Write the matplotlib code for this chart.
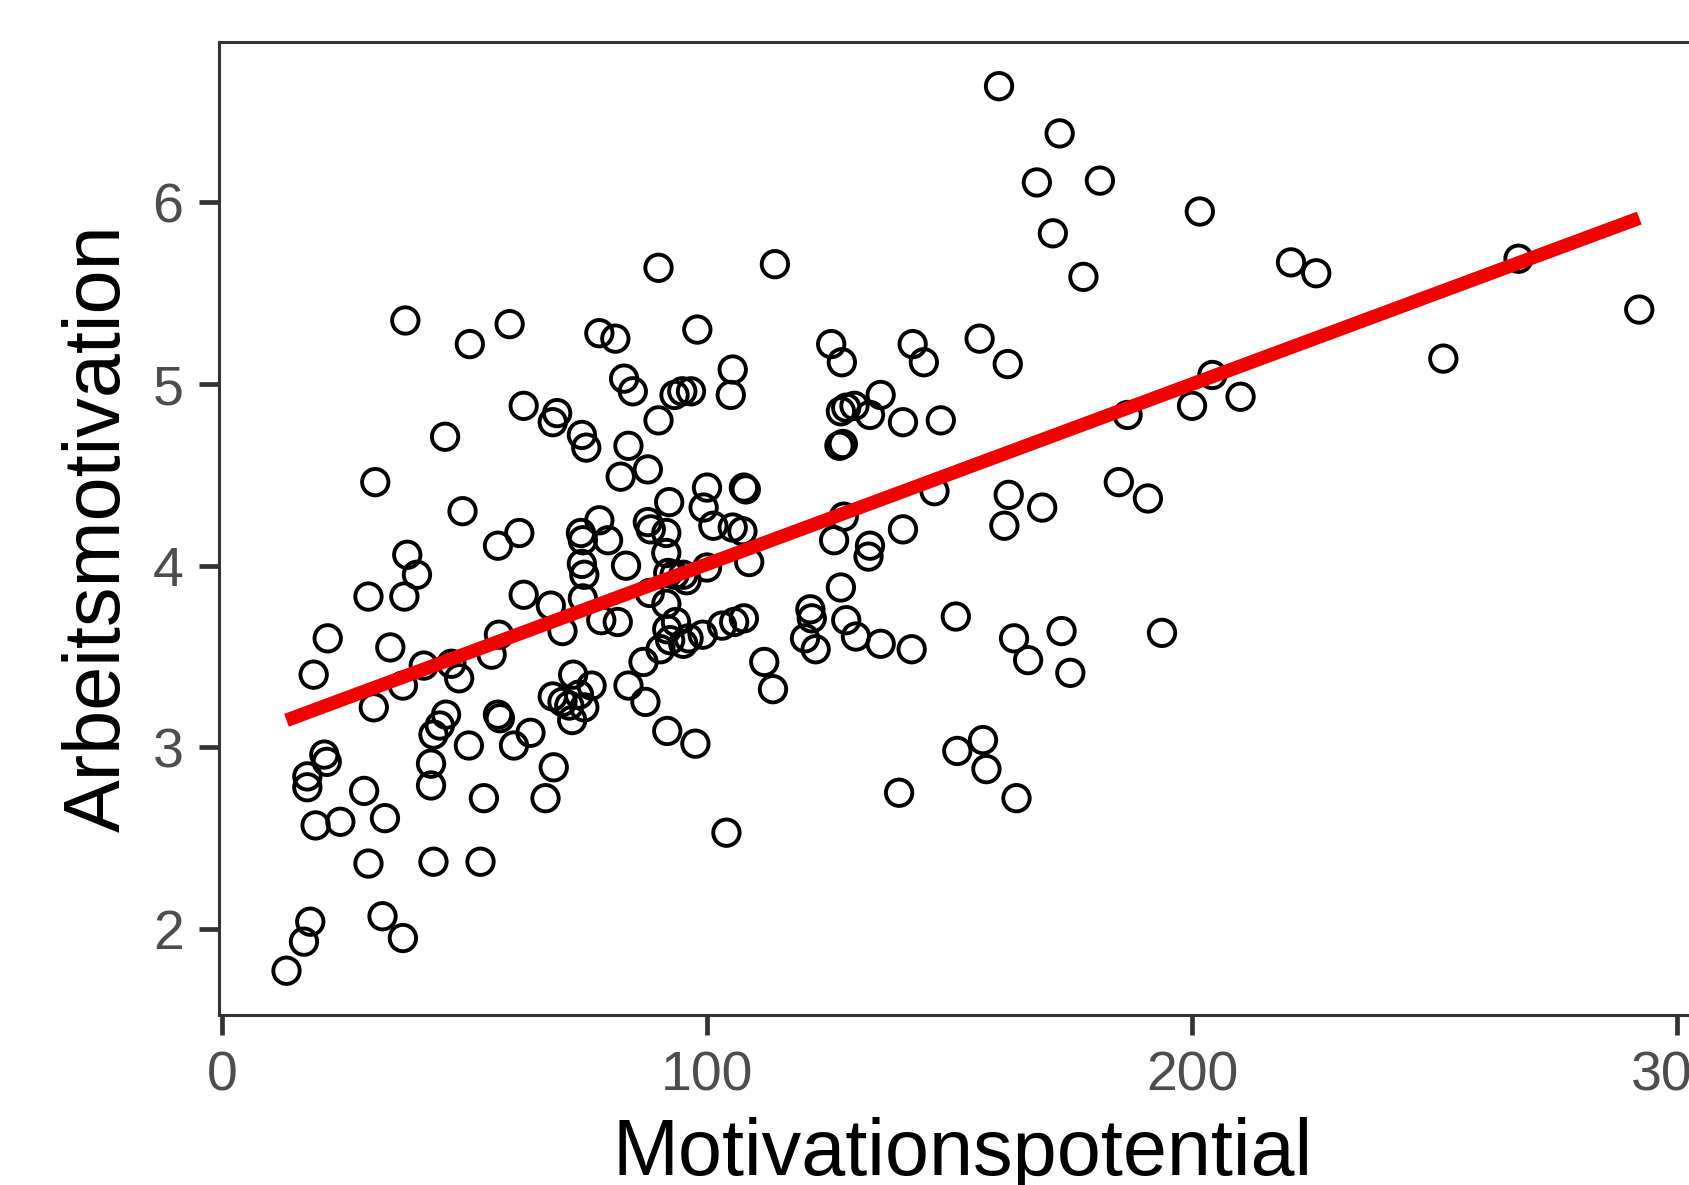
import numpy as np
import matplotlib as mpl
mpl.use('Agg')
import matplotlib.pyplot as plt

# ========================================================================================
# Daten

motivationspotential = [
    160.2, 172.7, 168.0, 181.0, 171.3, 201.6, 177.6, 220.4, 225.6, 267.3,
    292.2, 251.8, 204.2, 210.0, 200.0, 186.7, 184.9, 190.9, 193.8, 90.0,
    114.0, 37.8, 59.3, 51.1, 77.8, 81.1, 98.0, 125.6, 127.8, 142.4,
    144.7, 156.2, 162.0, 105.3, 104.9, 82.9, 84.7, 93.3, 94.9, 96.7,
    90.0, 62.2, 69.1, 68.2, 74.2, 75.1, 46.0, 83.8, 82.2, 87.8,
    31.6, 49.6, 127.6, 130.4, 133.6, 135.8, 140.4, 148.2, 127.3, 128.0,
    146.9, 162.2, 169.1, 161.3, 128.2, 126.2, 133.6, 133.3, 140.4, 127.6,
    121.3, 121.6, 128.7, 130.7, 120.2, 122.4, 135.8, 142.2, 151.3, 163.3,
    166.2, 173.1, 174.9, 151.6, 156.9, 157.6, 163.8, 139.6, 104.0, 107.6,
    108.0, 100.0, 99.3, 101.3, 105.3, 107.3, 108.7, 100.0, 92.2, 87.8,
    88.4, 91.6, 91.6, 92.0, 93.3, 95.1, 83.3, 77.8, 74.0, 74.4,
    79.6, 74.2, 74.7, 74.4, 88.2, 91.6, 67.8, 70.2, 62.2, 61.3,
    56.9, 38.2, 40.2, 37.6, 30.2, 34.7, 21.8, 18.9, 41.6, 47.3,
    48.9, 55.6, 57.1, 78.2, 81.6, 93.6, 91.8, 92.4, 90.4, 96.2,
    99.1, 103.1, 105.6, 107.6, 86.9, 83.8, 111.8, 113.6, 72.4, 76.2,
    73.6, 70.2, 68.2, 71.6, 74.7, 72.2, 37.3, 31.3, 46.2, 44.9,
    43.6, 56.9, 57.3, 63.6, 60.2, 50.9, 87.3, 91.8, 97.6, 68.4,
    66.7, 54.0, 43.1, 43.1, 21.1, 21.6, 17.6, 17.6, 29.3, 33.6,
    19.3, 24.4, 30.2, 43.6, 53.3, 33.1, 37.3, 18.2, 16.9, 13.3,
    95.1, 95.8, 128.7,
]

arbeitsmotivation = [
    6.64, 6.38, 6.11, 6.12, 5.83, 5.95, 5.59, 5.67, 5.61, 5.69,
    5.41, 5.14, 5.05, 4.93, 4.88, 4.83, 4.46, 4.37, 3.63, 5.64,
    5.66, 5.35, 5.33, 5.22, 5.28, 5.25, 5.30, 5.22, 5.12, 5.22,
    5.12, 5.25, 5.11, 5.08, 4.94, 5.03, 4.96, 4.94, 4.96, 4.96,
    4.80, 4.88, 4.84, 4.79, 4.72, 4.65, 4.71, 4.66, 4.49, 4.53,
    4.46, 4.30, 4.85, 4.88, 4.83, 4.94, 4.79, 4.80, 4.66, 4.67,
    4.41, 4.39, 4.32, 4.22, 4.27, 4.14, 4.11, 4.05, 4.20, 3.88,
    3.76, 3.71, 3.70, 3.61, 3.60, 3.54, 3.57, 3.54, 3.72, 3.60,
    3.48, 3.64, 3.41, 2.98, 3.04, 2.88, 2.72, 2.75, 2.53, 4.43,
    4.42, 4.43, 4.32, 4.22, 4.21, 4.19, 4.02, 3.99, 4.35, 4.24,
    4.20, 4.18, 4.07, 3.96, 3.95, 3.95, 4.00, 4.25, 4.18, 4.14,
    4.14, 4.01, 3.95, 3.82, 3.85, 3.79, 3.78, 3.64, 3.84, 4.18,
    4.11, 4.06, 3.95, 3.83, 3.83, 3.55, 3.60, 3.40, 3.45, 3.46,
    3.38, 3.51, 3.62, 3.70, 3.69, 3.69, 3.65, 3.59, 3.54, 3.60,
    3.62, 3.67, 3.69, 3.71, 3.47, 3.34, 3.47, 3.32, 3.40, 3.34,
    3.29, 3.25, 3.28, 3.23, 3.22, 3.15, 3.34, 3.22, 3.18, 3.12,
    3.07, 3.18, 3.16, 3.08, 3.01, 3.01, 3.25, 3.09, 3.02, 2.89,
    2.72, 2.72, 2.91, 2.79, 2.96, 2.92, 2.84, 2.78, 2.76, 2.61,
    2.57, 2.59, 2.36, 2.37, 2.37, 2.07, 1.95, 2.04, 1.93, 1.77,
    3.57, 3.92, 4.87,
]

x_ticks = [0, 100, 200, 300]
y_ticks = [2, 3, 4, 5, 6]

# ========================================================================================

x = np.array(motivationspotential)
y = np.array(arbeitsmotivation)

plt.rcParams['font.family'] = ['Liberation Sans', 'DejaVu Sans']

fig = plt.figure(figsize=(16.9, 11.85), dpi=100)
ax = fig.add_axes([0.1295, 0.1435, 0.8805, 0.8211])

ax.scatter(x, y, s=360, facecolors='none', edgecolors='black', linewidths=2.8, zorder=2)

# lineare Regression wie geom_smooth(method = "lm")
slope, intercept = np.polyfit(x, y, 1)
xs = np.array([x.min(), x.max()])
ax.plot(xs, intercept + slope * xs, color='#F20000', linewidth=9.8,
        solid_capstyle='butt', zorder=3)

# Ausdehnung wie in ggplot (5 %)
dx = 0.05 * (x.max() - x.min())
dy = 0.05 * (y.max() - y.min())
ax.set_xlim(x.min() - dx, x.max() + dx)
ax.set_ylim(y.min() - dy, y.max() + dy)

ax.set_xticks(x_ticks)
ax.set_yticks(y_ticks)

for spine in ax.spines.values():
    spine.set_color('#333333')
    spine.set_linewidth(2.2)

ax.tick_params(axis='both', length=14.4, width=3.4, color='#333333',
               labelsize=40, labelcolor='#4D4D4D', pad=11)

ax.set_xlabel("Motivationspotential", fontsize=57, color='black')
ax.set_ylabel("Arbeitsmotivation", fontsize=57, color='black')
ax.xaxis.set_label_coords(0.5, -0.105)
ax.yaxis.set_label_coords(-0.055, 0.5)

plt.savefig("out.png", dpi=100)
